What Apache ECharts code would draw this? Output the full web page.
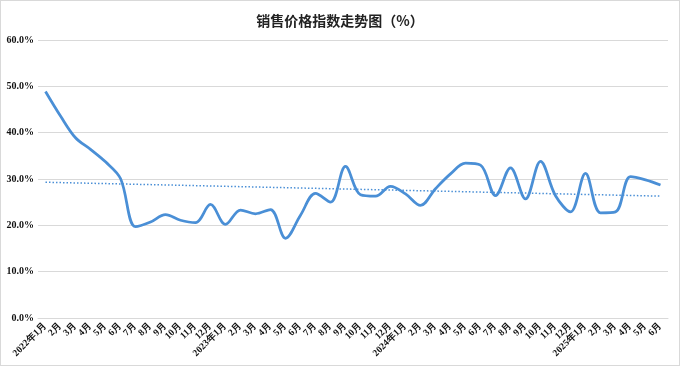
<!DOCTYPE html>
<html><head><meta charset="utf-8">
<script src="https://cdn.jsdelivr.net/npm/echarts@6/dist/echarts.min.js"></script>
<style>
html,body{margin:0;padding:0;background:#fff;}
#c{width:678px;height:364px;border:1px solid #d9d9d9;}
</style></head>
<body><div id="c"></div>
<script>
const categories = [
 '2022年1月','2月','3月','4月','5月','6月','7月','8月','9月','10月','11月','12月',
 '2023年1月','2月','3月','4月','5月','6月','7月','8月','9月','10月','11月','12月',
 '2024年1月','2月','3月','4月','5月','6月','7月','8月','9月','10月','11月','12月',
 '2025年1月','2月','3月','4月','5月','6月'
];
const priceIndex = [
 48.9,43.6,38.9,36.4,33.7,30.1,19.7,20.7,22.3,21.1,20.6,24.5,
 20.2,23.3,22.5,23.4,17.2,22.2,26.9,25.0,32.7,26.6,26.3,28.4,
 26.8,24.3,27.9,31.1,33.4,33.0,26.4,32.4,25.7,33.8,26.4,22.9,
 31.2,22.7,22.9,30.5,29.8,28.7
];
const trendStart = 29.3;
const trendEnd = 26.3;
const yTicks = { min: 0, max: 60, interval: 10 };

const chart = echarts.init(document.getElementById('c'), null, {renderer:'canvas'});
const serif = '"Liberation Serif","DejaVu Serif",serif';
chart.setOption({
  animation:false,
  title:{
    text:'销售价格指数走势图（%）',
    left:'center', top:8,
    textStyle:{fontFamily:'"Noto Sans CJK SC",sans-serif',fontSize:14,fontWeight:'bold',color:'#222'}
  },
  grid:{left:37,right:11,top:39,bottom:47},
  xAxis:{
    type:'category', data:categories, boundaryGap:true,
    axisLine:{show:true,lineStyle:{color:'#d9d9d9',width:1}},
    axisTick:{show:false},
    axisLabel:{interval:0,rotate:45,fontFamily:serif,fontWeight:'bold',fontSize:9.5,color:'#111',margin:6}
  },
  yAxis:{
    type:'value', min:yTicks.min, max:yTicks.max, interval:yTicks.interval,
    axisLine:{show:false}, axisTick:{show:false},
    splitLine:{lineStyle:{color:'#d9d9d9',width:1}},
    axisLabel:{formatter:v=>v.toFixed(1)+'%',fontFamily:serif,fontWeight:'bold',fontSize:10,color:'#111',margin:4}
  },
  series:[
    {
      type:'line', data:priceIndex, smooth:0.35, showSymbol:false,
      lineStyle:{color:'#4a8fd6',width:2.75}
    },
    {
      type:'line', data:[[categories[0],trendStart],[categories[categories.length-1],trendEnd]],
      showSymbol:false,
      lineStyle:{color:'#4a8fd6',width:1.5,type:[1.5,2]}
    }
  ]
});
</script></body></html>
